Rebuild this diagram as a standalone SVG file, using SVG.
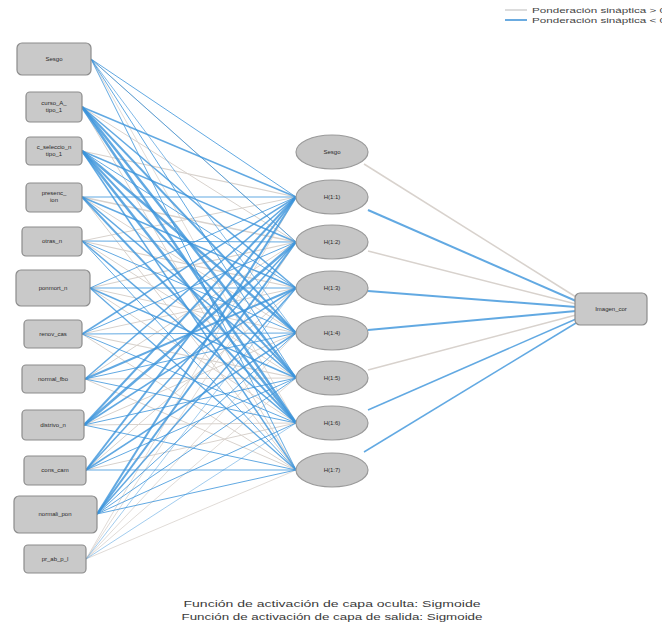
<svg xmlns="http://www.w3.org/2000/svg" width="662" height="628" viewBox="0 0 662 628">
<style>
.in{fill:#c9c9c9;stroke:#8c8c8c;stroke-width:1.2}
.hid{fill:#c6c6c6;stroke:#9a9a9a;stroke-width:1.2}
.lbl{font-family:"Liberation Sans",Arial,sans-serif;font-size:6px;fill:#2a2a2a;text-anchor:middle}
.g{stroke:#d8d2cd;fill:none}
.b{stroke:#3b93db;fill:none;stroke-opacity:0.8}
.leg{font-family:"Liberation Sans",Arial,sans-serif;font-size:8px;fill:#444}
.foot{font-family:"Liberation Sans",Arial,sans-serif;font-size:9px;fill:#3a3a3a;text-anchor:middle}
</style>
<rect width="662" height="628" fill="#ffffff"/>
<g id="legend">
<line x1="505" y1="10" x2="527" y2="10" stroke="#d0d0d0" stroke-width="1.5"/>
<line x1="505" y1="20" x2="527" y2="20" stroke="#3a8fd6" stroke-width="1.5"/>
<text class="leg" x="532" y="13" textLength="134" lengthAdjust="spacingAndGlyphs">Ponderación sináptica &gt; 0</text>
<text class="leg" x="532" y="23" textLength="134" lengthAdjust="spacingAndGlyphs">Ponderación sináptica &lt; 0</text>
</g>
<g id="connectors">
<line class="g" x1="91" y1="59" x2="296" y2="242" stroke-width="1"/>
<line class="g" x1="91" y1="59" x2="296" y2="423" stroke-width="0.8"/>
<line class="g" x1="82" y1="107" x2="296" y2="242" stroke-width="1"/>
<line class="g" x1="82" y1="107" x2="296" y2="470" stroke-width="1"/>
<line class="g" x1="82" y1="151" x2="296" y2="197" stroke-width="1.2"/>
<line class="g" x1="82" y1="197" x2="296" y2="242" stroke-width="1.5"/>
<line class="g" x1="82" y1="197" x2="296" y2="333" stroke-width="1"/>
<line class="g" x1="82" y1="197" x2="296" y2="470" stroke-width="1"/>
<line class="g" x1="82" y1="241" x2="296" y2="197" stroke-width="1"/>
<line class="g" x1="82" y1="241" x2="296" y2="288" stroke-width="1.2"/>
<line class="g" x1="82" y1="241" x2="296" y2="378" stroke-width="1"/>
<line class="g" x1="90" y1="288" x2="296" y2="242" stroke-width="1.2"/>
<line class="g" x1="90" y1="288" x2="296" y2="333" stroke-width="1"/>
<line class="g" x1="90" y1="288" x2="296" y2="423" stroke-width="1"/>
<line class="g" x1="82" y1="334" x2="296" y2="288" stroke-width="1"/>
<line class="g" x1="82" y1="334" x2="296" y2="378" stroke-width="1.2"/>
<line class="g" x1="82" y1="334" x2="296" y2="470" stroke-width="1"/>
<line class="g" x1="85" y1="379" x2="296" y2="242" stroke-width="1"/>
<line class="g" x1="85" y1="379" x2="296" y2="378" stroke-width="1"/>
<line class="g" x1="85" y1="379" x2="296" y2="470" stroke-width="1"/>
<line class="g" x1="84" y1="425" x2="296" y2="333" stroke-width="1"/>
<line class="g" x1="84" y1="425" x2="296" y2="423" stroke-width="1"/>
<line class="g" x1="86" y1="470" x2="296" y2="288" stroke-width="1"/>
<line class="g" x1="86" y1="470" x2="296" y2="423" stroke-width="1"/>
<line class="g" x1="86" y1="559" x2="296" y2="197" stroke-width="0.8"/>
<line class="g" x1="86" y1="559" x2="296" y2="242" stroke-width="0.8"/>
<line class="g" x1="86" y1="559" x2="296" y2="333" stroke-width="0.8"/>
<line class="g" x1="86" y1="559" x2="296" y2="378" stroke-width="0.8"/>
<line class="g" x1="86" y1="559" x2="296" y2="470" stroke-width="0.8"/>
<line class="b" x1="91" y1="59" x2="296" y2="197" stroke-width="1"/>
<line class="b" x1="91" y1="59" x2="296" y2="242" stroke-width="1"/>
<line class="b" x1="91" y1="59" x2="296" y2="333" stroke-width="0.8"/>
<line class="b" x1="91" y1="59" x2="296" y2="378" stroke-width="1"/>
<line class="b" x1="91" y1="59" x2="296" y2="470" stroke-width="1"/>
<line class="b" x1="82" y1="107" x2="296" y2="197" stroke-width="1.5"/>
<line class="b" x1="82" y1="107" x2="296" y2="288" stroke-width="1.5"/>
<line class="b" x1="82" y1="107" x2="296" y2="333" stroke-width="2"/>
<line class="b" x1="82" y1="107" x2="296" y2="378" stroke-width="2.5"/>
<line class="b" x1="82" y1="107" x2="296" y2="423" stroke-width="2.5"/>
<line class="b" x1="82" y1="151" x2="296" y2="242" stroke-width="1.5"/>
<line class="b" x1="82" y1="151" x2="296" y2="288" stroke-width="1"/>
<line class="b" x1="82" y1="151" x2="296" y2="333" stroke-width="2.5"/>
<line class="b" x1="82" y1="151" x2="296" y2="378" stroke-width="2"/>
<line class="b" x1="82" y1="151" x2="296" y2="423" stroke-width="2.5"/>
<line class="b" x1="82" y1="151" x2="296" y2="470" stroke-width="1.5"/>
<line class="b" x1="82" y1="197" x2="296" y2="197" stroke-width="1"/>
<line class="b" x1="82" y1="197" x2="296" y2="288" stroke-width="1.5"/>
<line class="b" x1="82" y1="197" x2="296" y2="378" stroke-width="1.5"/>
<line class="b" x1="82" y1="197" x2="296" y2="423" stroke-width="2"/>
<line class="b" x1="82" y1="241" x2="296" y2="242" stroke-width="1"/>
<line class="b" x1="82" y1="241" x2="296" y2="333" stroke-width="1"/>
<line class="b" x1="82" y1="241" x2="296" y2="423" stroke-width="1.5"/>
<line class="b" x1="82" y1="241" x2="296" y2="470" stroke-width="1"/>
<line class="b" x1="90" y1="288" x2="296" y2="197" stroke-width="1"/>
<line class="b" x1="90" y1="288" x2="296" y2="288" stroke-width="1"/>
<line class="b" x1="90" y1="288" x2="296" y2="378" stroke-width="1.5"/>
<line class="b" x1="90" y1="288" x2="296" y2="470" stroke-width="1.2"/>
<line class="b" x1="82" y1="334" x2="296" y2="197" stroke-width="1.5"/>
<line class="b" x1="82" y1="334" x2="296" y2="242" stroke-width="1"/>
<line class="b" x1="82" y1="334" x2="296" y2="333" stroke-width="1"/>
<line class="b" x1="82" y1="334" x2="296" y2="423" stroke-width="1"/>
<line class="b" x1="85" y1="379" x2="296" y2="197" stroke-width="1.5"/>
<line class="b" x1="85" y1="379" x2="296" y2="288" stroke-width="2"/>
<line class="b" x1="85" y1="379" x2="296" y2="333" stroke-width="1"/>
<line class="b" x1="85" y1="379" x2="296" y2="423" stroke-width="1"/>
<line class="b" x1="84" y1="425" x2="296" y2="197" stroke-width="2"/>
<line class="b" x1="84" y1="425" x2="296" y2="242" stroke-width="2.5"/>
<line class="b" x1="84" y1="425" x2="296" y2="288" stroke-width="1.5"/>
<line class="b" x1="84" y1="425" x2="296" y2="378" stroke-width="1"/>
<line class="b" x1="84" y1="425" x2="296" y2="470" stroke-width="1"/>
<line class="b" x1="86" y1="470" x2="296" y2="197" stroke-width="2"/>
<line class="b" x1="86" y1="470" x2="296" y2="242" stroke-width="1.5"/>
<line class="b" x1="86" y1="470" x2="296" y2="333" stroke-width="1.5"/>
<line class="b" x1="86" y1="470" x2="296" y2="378" stroke-width="1"/>
<line class="b" x1="86" y1="470" x2="296" y2="470" stroke-width="1"/>
<line class="b" x1="97" y1="514" x2="296" y2="197" stroke-width="2"/>
<line class="b" x1="97" y1="514" x2="296" y2="242" stroke-width="2"/>
<line class="b" x1="97" y1="514" x2="296" y2="288" stroke-width="1.5"/>
<line class="b" x1="97" y1="514" x2="296" y2="333" stroke-width="1"/>
<line class="b" x1="97" y1="514" x2="296" y2="378" stroke-width="1"/>
<line class="b" x1="97" y1="514" x2="296" y2="423" stroke-width="1"/>
<line class="b" x1="97" y1="514" x2="296" y2="470" stroke-width="1"/>
<line class="b" x1="86" y1="559" x2="296" y2="288" stroke-width="0.6"/>
<line class="b" x1="86" y1="559" x2="296" y2="423" stroke-width="0.6"/>
<line class="g" x1="364" y1="164" x2="576" y2="297" stroke-width="1.5"/>
<line class="b" x1="368" y1="210" x2="576" y2="301" stroke-width="2"/>
<line class="g" x1="368" y1="251" x2="576" y2="304" stroke-width="1.5"/>
<line class="b" x1="368" y1="291" x2="576" y2="307" stroke-width="2"/>
<line class="b" x1="368" y1="330" x2="576" y2="311" stroke-width="2"/>
<line class="g" x1="368" y1="370" x2="576" y2="315" stroke-width="1.5"/>
<line class="b" x1="368" y1="410" x2="576" y2="319" stroke-width="1.5"/>
<line class="b" x1="364" y1="452" x2="576" y2="323" stroke-width="1.5"/>
</g>
<g id="in_sesgo"><rect class="in" x="17" y="43" width="74" height="32" rx="5"/><text class="lbl" x="54" y="61">Sesgo</text></g>
<g id="in_2"><rect class="in" x="26" y="92" width="56" height="30" rx="4"/><text class="lbl" x="54" y="105">curso_A_</text><text class="lbl" x="54" y="112">tipo_1</text></g>
<g id="in_3"><rect class="in" x="26" y="137" width="56" height="28" rx="4"/><text class="lbl" x="54" y="149">c_seleccio_n</text><text class="lbl" x="54" y="156">tipo_1</text></g>
<g id="in_4"><rect class="in" x="26" y="183" width="56" height="29" rx="4"/><text class="lbl" x="54" y="195">presenc_</text><text class="lbl" x="54" y="202">ion</text></g>
<g id="in_5"><rect class="in" x="22" y="227" width="60" height="29" rx="4"/><text class="lbl" x="52" y="243">otras_n</text></g>
<g id="in_6"><rect class="in" x="16" y="270" width="74" height="36" rx="5"/><text class="lbl" x="53" y="290">ponmort_n</text></g>
<g id="in_7"><rect class="in" x="24" y="320" width="58" height="28" rx="4"/><text class="lbl" x="53" y="336">renov_cas</text></g>
<g id="in_8"><rect class="in" x="22" y="365" width="63" height="28" rx="4"/><text class="lbl" x="53" y="381">normal_fbo</text></g>
<g id="in_9"><rect class="in" x="22" y="410" width="62" height="30" rx="4"/><text class="lbl" x="53" y="427">distrivo_n</text></g>
<g id="in_10"><rect class="in" x="24" y="456" width="62" height="29" rx="4"/><text class="lbl" x="55" y="472">cons_cam</text></g>
<g id="in_11"><rect class="in" x="14" y="496" width="83" height="37" rx="5"/><text class="lbl" x="55" y="516">normali_pon</text></g>
<g id="in_12"><rect class="in" x="24" y="545" width="62" height="28" rx="4"/><text class="lbl" x="55" y="561">pr_ab_p_l</text></g>
<g id="h_sesgo"><ellipse class="hid" cx="332" cy="152" rx="36" ry="17"/><text class="lbl" x="332" y="154">Sesgo</text></g>
<g id="h_1"><ellipse class="hid" cx="332" cy="197" rx="36" ry="17"/><text class="lbl" x="332" y="199">H(1:1)</text></g>
<g id="h_2"><ellipse class="hid" cx="332" cy="242" rx="36" ry="17"/><text class="lbl" x="332" y="244">H(1:2)</text></g>
<g id="h_3"><ellipse class="hid" cx="332" cy="288" rx="36" ry="17"/><text class="lbl" x="332" y="290">H(1:3)</text></g>
<g id="h_4"><ellipse class="hid" cx="332" cy="333" rx="36" ry="17"/><text class="lbl" x="332" y="335">H(1:4)</text></g>
<g id="h_5"><ellipse class="hid" cx="332" cy="378" rx="36" ry="17"/><text class="lbl" x="332" y="380">H(1:5)</text></g>
<g id="h_6"><ellipse class="hid" cx="332" cy="423" rx="36" ry="17"/><text class="lbl" x="332" y="425">H(1:6)</text></g>
<g id="h_7"><ellipse class="hid" cx="332" cy="470" rx="36" ry="17"/><text class="lbl" x="332" y="472">H(1:7)</text></g>
<g id="out"><rect class="in" x="575" y="293" width="72" height="32" rx="5"/><text class="lbl" x="611" y="311">Imagen_cor</text></g>
<g id="footer">
<text class="foot" x="332" y="607" textLength="297" lengthAdjust="spacingAndGlyphs">Función de activación de capa oculta: Sigmoide</text>
<text class="foot" x="332" y="620" textLength="301" lengthAdjust="spacingAndGlyphs">Función de activación de capa de salida: Sigmoide</text>
</g>
</svg>
